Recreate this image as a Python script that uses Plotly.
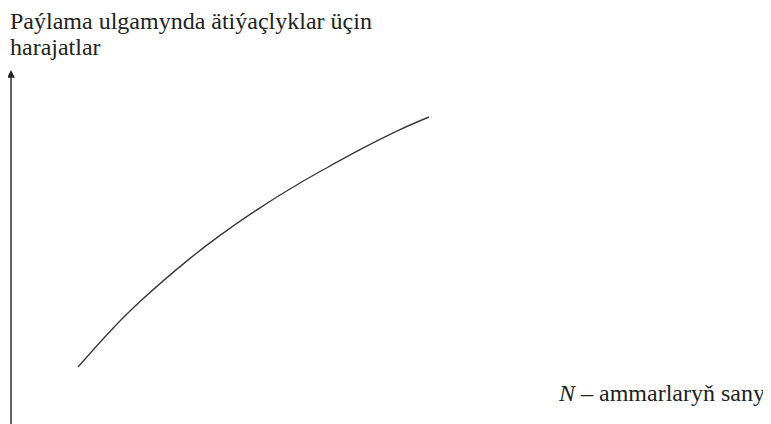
import plotly.graph_objects as go

# number of warehouses (arbitrary units) and reserve costs
n_warehouses = [3.35, 4.95, 6.45, 8.95, 10.45, 12.45, 14.45, 15.95, 17.45, 19.45, 20.9]
reserve_costs = [2.85, 4.63, 6.12, 8.28, 9.43, 10.81, 12.05, 12.9, 13.72, 14.72, 15.35]

y_title_1 = "Paýlama ulgamynda ätiýaçlyklar üçin"
y_title_2 = "harajatlar"
x_title = "<i>N</i> – ammarlaryň sany"

serif = "Liberation Serif"
W, H = 763, 416  # page body has an 8px margin

fig = go.Figure()
fig.add_trace(go.Scatter(
    x=n_warehouses,
    y=reserve_costs,
    mode="lines",
    line=dict(color="#3a3a3a", width=1.4, shape="spline", smoothing=1.0),
    hoverinfo="skip",
    showlegend=False,
))

# vertical axis with arrow
fig.add_annotation(
    x=0, y=17.7, xref="x", yref="y",
    ax=0, ay=-1, axref="x", ayref="y",
    showarrow=True, arrowhead=2, arrowsize=1.1, arrowwidth=1.4,
    arrowcolor="#222222", text="",
)

for txt, top in [(y_title_1, -2), (y_title_2, 24)]:
    fig.add_annotation(
        text=txt, xref="paper", yref="paper",
        x=0, y=1 - top / H, xanchor="left", yanchor="top",
        align="left", showarrow=False,
        font=dict(family=serif, size=24, color="#222222"),
    )
fig.add_annotation(
    text=x_title, xref="paper", yref="paper",
    x=759 / W, y=1 - 370 / H, xanchor="right", yanchor="top",
    showarrow=False,
    font=dict(family=serif, size=24, color="#222222"),
)

fig.update_layout(
    width=W, height=H,
    margin=dict(l=0, r=0, t=0, b=0),
    paper_bgcolor="white", plot_bgcolor="white",
    xaxis=dict(range=[-0.15, 38.0], visible=False),
    yaxis=dict(range=[0, 20.8], visible=False),
)

fig.write_html("out.html")
